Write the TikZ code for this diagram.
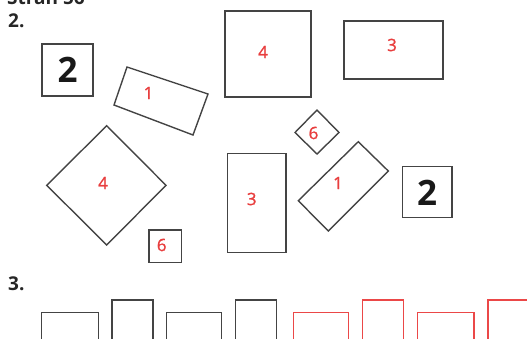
\documentclass[tikz,border=0pt]{standalone}
\usepackage{fontspec}
\setmainfont{Open Sans}
\newfontfamily\lblfont[FakeBold=1.2]{Open Sans}
\definecolor{lbl}{RGB}{232,62,62}
\definecolor{ln}{RGB}{68,68,68}
\definecolor{redln}{RGB}{235,72,72}
\begin{document}
\begin{tikzpicture}[x=1pt,y=-1pt,
  shp/.style={draw=ln,line width=1.4pt,line join=miter},
  redshp/.style={draw=redln,line width=1.4pt},
  num/.style={text=lbl,font=\lblfont\fontsize{17}{17}\selectfont,inner sep=0pt},
  bignum/.style={text=black!90,font=\fontsize{35}{35}\selectfont\bfseries,inner sep=0pt},
  head/.style={text=black!85,font=\fontsize{19}{19}\selectfont\bfseries,inner sep=0pt,anchor=base west}]
\useasboundingbox (0,0) rectangle (527,338);
\clip (0,0) rectangle (527,338);
% headings
\node[head] (stran) at (7,4.5) {Stran 56};
\node[head] (h2) at (8,27) {2.};
\node[head] (h3) at (8,290) {3.};
% left box 2
\draw[shp] (42,44) rectangle (93,96);
\node[bignum] (twoA) at (67.5,70) {2};
% tilted rectangle 1 (upper)
\draw[shp] (127,67) -- (208,94) -- (193,135) -- (114,105) -- cycle;
\node[num] (oneA) at (148.5,93) {1};
% square 4
\draw[shp] (225,11) rectangle (311,97);
\node[num] (fourA) at (263,52) {4};
% rectangle 3 (top right)
\draw[shp] (344,21) rectangle (443,79);
\node[num] (threeA) at (392,45) {3};
% small diamond 6
\draw[shp] (317,110) -- (339,132.5) -- (317,154) -- (295,132.5) -- cycle;
\node[num] (sixA) at (313.5,133) {6};
% tilted rectangle 1 (right)
\draw[shp] (358.3,141.7) -- (388.3,171) -- (328.3,231) -- (298.3,200.7) -- cycle;
\node[num] (oneB) at (338,183) {1};
% right box 2
\draw[shp] (402.3,166.7) rectangle (452,217.7);
\node[bignum] (twoB) at (427,192.5) {2};
% diamond 4
\draw[shp] (106.7,125.7) -- (166,185.3) -- (106.7,245) -- (46.7,185.3) -- cycle;
\node[num] (fourB) at (103,183) {4};
% small square 6
\draw[shp] (149,230) rectangle (181.7,262.7);
\node[num] (sixB) at (161.7,245) {6};
% vertical rectangle 3
\draw[shp] (227.7,153.3) rectangle (286,252.3);
\node[num] (threeB) at (251.7,199) {3};
% row 3: open-bottom rectangles
\draw[shp] (41.3,345) |- (98.3,312.7) -- (98.3,345);
\draw[shp] (112,345) |- (153,300) -- (153,345);
\draw[shp] (166.7,345) |- (221.7,312.7) -- (221.7,345);
\draw[shp] (235.7,345) |- (276.7,300) -- (276.7,345);
\draw[redshp] (293.3,345) |- (348.7,312.7) -- (348.7,345);
\draw[redshp] (362.7,345) |- (403.7,300) -- (403.7,345);
\draw[redshp] (417.7,345) |- (474,312.7) -- (474,345);
\draw[redshp] (488,345) |- (530,300);
\end{tikzpicture}
\end{document}
